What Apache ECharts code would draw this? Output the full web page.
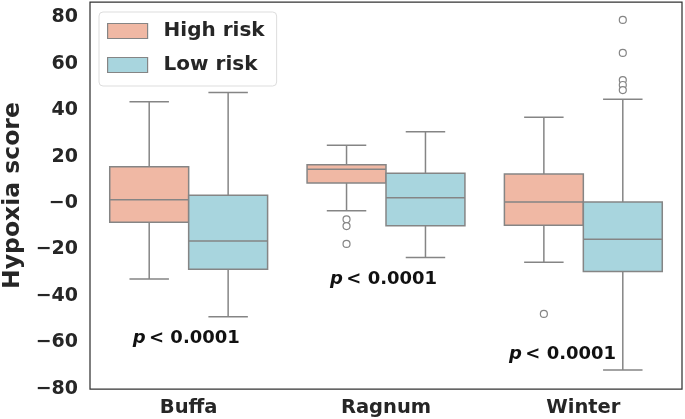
<!DOCTYPE html>
<html>
<head>
<meta charset="utf-8">
<script src="https://cdn.jsdelivr.net/npm/echarts@6/dist/echarts.min.js"></script>
<style>html,body{margin:0;padding:0;background:#fff}#c{width:685px;height:419px}</style>
</head>
<body>
<div id="c"></div>
<script>
const categories = ['Buffa', 'Ragnum', 'Winter'];
const groups = ['High risk', 'Low risk'];
// [min, q1, median, q3, max]
const highBox = [
  [-32.7, -8.3, 1.4, 15.6, 43.6],
  [-3.3, 8.6, 14.5, 16.5, 24.9],
  [-25.5, -9.6, 0.4, 12.5, 36.9]
];
const lowBox = [
  [-48.9, -28.5, -16.3, 3.4, 47.6],
  [-23.4, -9.8, 2.3, 12.8, 30.7],
  [-71.8, -29.5, -15.6, 0.4, 44.7]
];
// outliers: [categoryIndex, value]
const highOutliers = [[1, -7.0], [1, -9.9], [1, -17.6], [2, -47.7]];
const lowOutliers = [[2, 78.8], [2, 64.6], [2, 52.9], [2, 50.8], [2, 48.6]];
const pLabels = ['< 0.0001', '< 0.0001', '< 0.0001'];
const pLabelY = [-58, -33, -65];
const pLabelShift = [-0.012, -0.012, -0.105];
const yTicks = [-80, -60, -40, -20, 0, 20, 40, 60, 80];

const colors = { 'High risk': '#F0B8A4', 'Low risk': '#A8D5DE' };
const edge = '#858585';

function boxRender(offsetFrac, fill) {
  return function (params, api) {
    const cat = api.value(0);
    const band = api.size([1, 0])[0];
    const w = band * 0.4;
    const cx = api.coord([cat, 0])[0] + offsetFrac * band;
    const yMin = api.coord([cat, api.value(1)])[1];
    const yQ1 = api.coord([cat, api.value(2)])[1];
    const yMed = api.coord([cat, api.value(3)])[1];
    const yQ3 = api.coord([cat, api.value(4)])[1];
    const yMax = api.coord([cat, api.value(5)])[1];
    const ls = { stroke: edge, lineWidth: 1.5 };
    const capW = w / 2;
    return {
      type: 'group',
      children: [
        { type: 'line', shape: { x1: cx, y1: yQ3, x2: cx, y2: yMax }, style: ls },
        { type: 'line', shape: { x1: cx, y1: yQ1, x2: cx, y2: yMin }, style: ls },
        { type: 'line', shape: { x1: cx - capW / 2, y1: yMax, x2: cx + capW / 2, y2: yMax }, style: ls },
        { type: 'line', shape: { x1: cx - capW / 2, y1: yMin, x2: cx + capW / 2, y2: yMin }, style: ls },
        { type: 'rect', shape: { x: cx - w / 2, y: yQ3, width: w, height: yQ1 - yQ3 }, style: { fill: fill, stroke: edge, lineWidth: 1.5 } },
        { type: 'line', shape: { x1: cx - w / 2, y1: yMed, x2: cx + w / 2, y2: yMed }, style: ls }
      ]
    };
  };
}
function outRender(offsetFrac) {
  return function (params, api) {
    const cat = api.value(0);
    const band = api.size([1, 0])[0];
    const p = api.coord([cat, api.value(1)]);
    return { type: 'circle', shape: { cx: p[0] + offsetFrac * band, cy: p[1], r: 3.5 }, style: { fill: '#fff', stroke: edge, lineWidth: 1.2 } };
  };
}
function pRender(params, api) {
  const i = params.dataIndex;
  const band = api.size([1, 0])[0];
  const p = api.coord([api.value(0), api.value(1)]);
  return {
    type: 'text', x: p[0] + pLabelShift[i] * band, y: p[1],
    style: {
      text: '{i|p} {n|' + pLabels[i] + '}',
      align: 'center', verticalAlign: 'middle', fill: '#111',
      rich: {
        i: { fontSize: 18, fontWeight: 'bold', fontStyle: 'italic', fill: '#111', fontFamily: 'DejaVu Sans' },
        n: { fontSize: 18, fontWeight: 'bold', fill: '#111', fontFamily: 'DejaVu Sans' }
      }
    }
  };
}

const boxData = (arr) => arr.map((b, i) => [i].concat(b));

const chart = echarts.init(document.getElementById('c'), null, { renderer: 'canvas' });
chart.setOption({
  animation: false,
  backgroundColor: '#fff',
  textStyle: { fontFamily: 'DejaVu Sans' },
  grid: { left: 90, right: 3, top: 2, bottom: 30, containLabel: false, outerBoundsMode: 'none',
    show: true, borderColor: '#333', borderWidth: 1.25, backgroundColor: 'transparent' },
  legend: {
    orient: 'vertical', left: 99, top: 12,
    padding: [9, 12, 11, 8],
    itemWidth: 40, itemHeight: 15, itemGap: 14,
    backgroundColor: '#fff', borderColor: '#ddd', borderWidth: 1, borderRadius: 4,
    textStyle: { fontSize: 20, fontWeight: 'bold', color: '#262626', fontFamily: 'DejaVu Sans', padding: [0, 0, 0, 11] },
    data: groups.map(g => ({ name: g, icon: 'rect', itemStyle: { color: colors[g], borderColor: edge, borderWidth: 1.2 } }))
  },
  xAxis: {
    type: 'category', data: categories,
    axisLine: { show: false }, axisTick: { show: false },
    axisLabel: { fontSize: 19.5, fontWeight: 'bold', color: '#262626', margin: 9 }
  },
  yAxis: {
    type: 'value', min: -80, max: 86.5, interval: 20,
    name: 'Hypoxia score', nameLocation: 'middle', nameGap: 64,
    nameTextStyle: { fontSize: 23.5, fontWeight: 'bold', color: '#262626' },
    axisLine: { show: false }, axisTick: { show: false }, splitLine: { show: false },
    axisLabel: {
      fontSize: 19, fontWeight: 'bold', color: '#262626', margin: 12,
      formatter: v => yTicks.indexOf(v) < 0 ? '' : (v < 0 ? '\u2212' + Math.abs(v) : (v === 0 ? '\u22120' : String(v)))
    }
  },
  series: [
    { name: 'High risk', type: 'custom', renderItem: boxRender(-0.2, colors['High risk']), itemStyle: { color: colors['High risk'] },
      encode: { x: 0, y: [1, 2, 3, 4, 5] }, data: boxData(highBox), z: 2 },
    { name: 'Low risk', type: 'custom', renderItem: boxRender(0.2, colors['Low risk']), itemStyle: { color: colors['Low risk'] },
      encode: { x: 0, y: [1, 2, 3, 4, 5] }, data: boxData(lowBox), z: 2 },
    { name: 'High risk', type: 'custom', renderItem: outRender(-0.2), encode: { x: 0, y: 1 }, data: highOutliers, z: 3 },
    { name: 'Low risk', type: 'custom', renderItem: outRender(0.2), encode: { x: 0, y: 1 }, data: lowOutliers, z: 3 },
    { type: 'custom', renderItem: pRender, silent: true, z: 5, encode: { x: 0, y: 1 },
      data: categories.map((c, i) => [i, pLabelY[i]]) }
  ]
});
</script>
</body>
</html>
